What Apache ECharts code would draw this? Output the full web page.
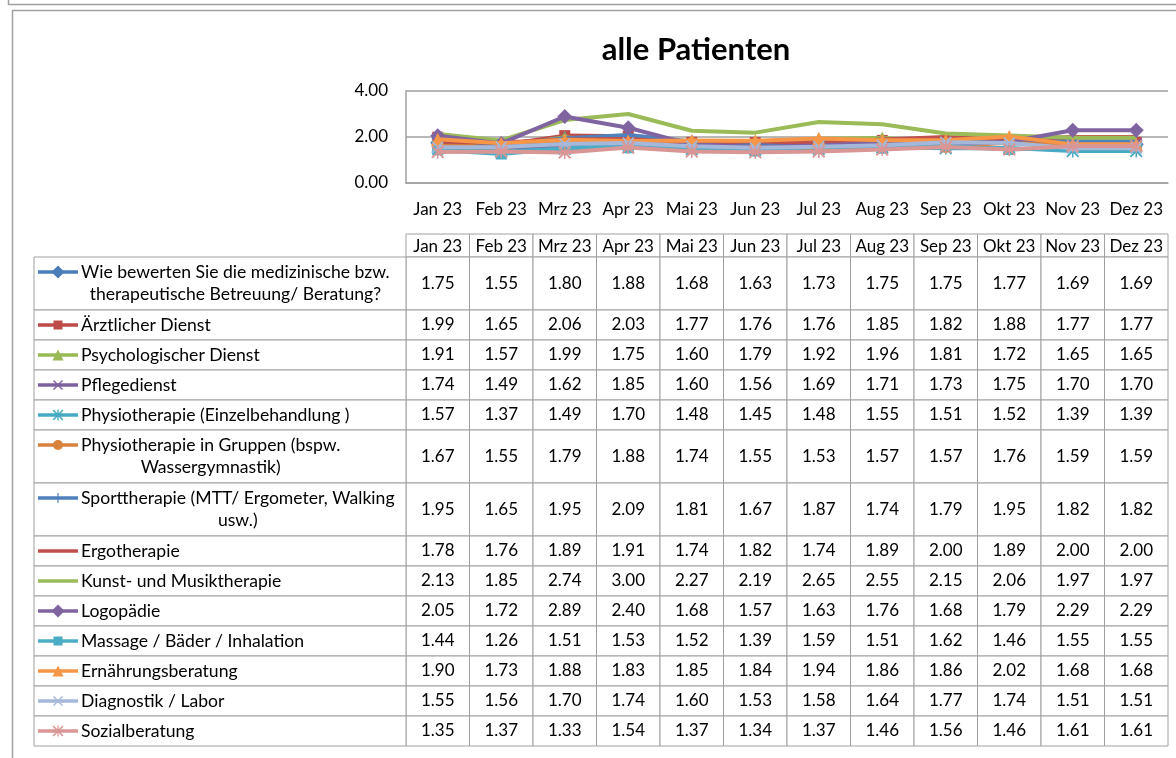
<!DOCTYPE html>
<html>
<head>
<meta charset="utf-8">
<title>alle Patienten</title>
<script src="https://cdn.jsdelivr.net/npm/echarts@6.0.0/dist/echarts.min.js"></script>
<style>
  html, body { margin: 0; padding: 0; background: #fff; }
  #chart { width: 1176px; height: 758px; }
</style>
</head>
<body>
<div id="chart"></div>
<script>
// Monate (Kategorien)
const months = ['Jan 23', 'Feb 23', 'Mrz 23', 'Apr 23', 'Mai 23', 'Jun 23', 'Jul 23', 'Aug 23', 'Sep 23', 'Okt 23', 'Nov 23', 'Dez 23']
const yTicks = [0, 2, 4]

// Werte je Bereich
const betreuung = [1.75, 1.55, 1.80, 1.88, 1.68, 1.63, 1.73, 1.75, 1.75, 1.77, 1.69, 1.69]
const aerztlich = [1.99, 1.65, 2.06, 2.03, 1.77, 1.76, 1.76, 1.85, 1.82, 1.88, 1.77, 1.77]
const psychologisch = [1.91, 1.57, 1.99, 1.75, 1.60, 1.79, 1.92, 1.96, 1.81, 1.72, 1.65, 1.65]
const pflege = [1.74, 1.49, 1.62, 1.85, 1.60, 1.56, 1.69, 1.71, 1.73, 1.75, 1.70, 1.70]
const physioEinzel = [1.57, 1.37, 1.49, 1.70, 1.48, 1.45, 1.48, 1.55, 1.51, 1.52, 1.39, 1.39]
const physioGruppen = [1.67, 1.55, 1.79, 1.88, 1.74, 1.55, 1.53, 1.57, 1.57, 1.76, 1.59, 1.59]
const sport = [1.95, 1.65, 1.95, 2.09, 1.81, 1.67, 1.87, 1.74, 1.79, 1.95, 1.82, 1.82]
const ergo = [1.78, 1.76, 1.89, 1.91, 1.74, 1.82, 1.74, 1.89, 2.00, 1.89, 2.00, 2.00]
const kunst = [2.13, 1.85, 2.74, 3.00, 2.27, 2.19, 2.65, 2.55, 2.15, 2.06, 1.97, 1.97]
const logo = [2.05, 1.72, 2.89, 2.40, 1.68, 1.57, 1.63, 1.76, 1.68, 1.79, 2.29, 2.29]
const massage = [1.44, 1.26, 1.51, 1.53, 1.52, 1.39, 1.59, 1.51, 1.62, 1.46, 1.55, 1.55]
const ernaehrung = [1.90, 1.73, 1.88, 1.83, 1.85, 1.84, 1.94, 1.86, 1.86, 2.02, 1.68, 1.68]
const diagnostik = [1.55, 1.56, 1.70, 1.74, 1.60, 1.53, 1.58, 1.64, 1.77, 1.74, 1.51, 1.51]
const sozial = [1.35, 1.37, 1.33, 1.54, 1.37, 1.34, 1.37, 1.46, 1.56, 1.46, 1.61, 1.61]

const names = [
  'Wie bewerten Sie die medizinische bzw.\ntherapeutische Betreuung/ Beratung?',
  'Ärztlicher Dienst',
  'Psychologischer Dienst',
  'Pflegedienst',
  'Physiotherapie (Einzelbehandlung )',
  'Physiotherapie in Gruppen (bspw.\nWassergymnastik)',
  'Sporttherapie (MTT/ Ergometer, Walking\nusw.)',
  'Ergotherapie',
  'Kunst- und Musiktherapie',
  'Logopädie',
  'Massage / Bäder / Inhalation',
  'Ernährungsberatung',
  'Diagnostik / Labor',
  'Sozialberatung'
]
const values = [betreuung, aerztlich, psychologisch, pflege, physioEinzel, physioGruppen, sport,
  ergo, kunst, logo, massage, ernaehrung, diagnostik, sozial]

// Darstellung
const colors = ['#4A7EBB', '#BE4B48', '#98B954', '#7D60A0', '#46AAC5', '#D8823E', '#4F81BD',
  '#C0504D', '#9BBB59', '#8064A2', '#4BACC6', '#F79646', '#A5B8DA', '#D99694']
const P = {
  diamond: 'M5,0L10,5L5,10L0,5Z',
  rect: 'M0,0H10V10H0Z',
  triangle: 'M5,0L10,10H0Z',
  cross: 'M0,1L1,0L10,9L9,10Z M9,0L10,1L1,10L0,9Z',
  star: 'M0,1L1,0L10,9L9,10Z M9,0L10,1L1,10L0,9Z M4.4,0H5.6V10H4.4Z',
  circle: 'M0,5A5,5 0 1,0 10,5A5,5 0 1,0 0,5Z',
  plus: 'M4.4,0H5.6V10H4.4Z M0,4.4H10V5.6H0Z'
}
const markers = ['diamond', 'rect', 'triangle', 'cross', 'star', 'circle', 'plus',
  null, null, 'diamond', 'rect', 'triangle', 'cross', 'star']
const markerSize = { diamond: 15, rect: 11, triangle: 13, cross: 12, star: 13, circle: 12, plus: 12 }

const FONT = 'Lato, "Noto Sans", sans-serif'
const GRAY = '#A0A0A0'

// Tabellen-Layout
const headH = 23
const rowH = names.map(n => n.indexOf('\n') >= 0 ? 53 : 30)
const rowTop = []
rowH.reduce((acc, h, i) => { rowTop[i] = acc; return acc + h }, headH)
const tableH = headH + rowH.reduce((a, b) => a + b, 0)
const legendW = 372

const measureCtx = document.createElement('canvas').getContext('2d')
function textWidth(s, font) {
  measureCtx.font = font
  return measureCtx.measureText(s).width
}

const chart = echarts.init(document.getElementById('chart'))

const lineSeries = names.map((n, i) => ({
  name: n.replace('\n', ' '),
  type: 'line',
  xAxisIndex: 0,
  yAxisIndex: 0,
  data: values[i],
  symbol: markers[i] ? 'path://' + P[markers[i]] : 'none',
  symbolSize: markers[i] ? markerSize[markers[i]] : 0,
  showSymbol: !!markers[i],
  lineStyle: { width: 4, color: colors[i] },
  itemStyle: { color: colors[i] },
  z: 3 + i
}))

const cellData = []
values.forEach((arr, r) => arr.forEach((v, m) => cellData.push([m, r, v])))

function cellRect(api, m, top, h) {
  const bw = api.size([1, 0])[0]
  const cx = api.coord([m, top])[0]
  const y0 = api.coord([m, top])[1]
  const y1 = api.coord([m, top + h])[1]
  return { x: cx - bw / 2, y: y0, width: bw, height: y1 - y0, cx: cx }
}

const cellSeries = {
  type: 'custom',
  xAxisIndex: 1,
  yAxisIndex: 1,
  data: cellData,
  renderItem(params, api) {
    const m = api.value(0), r = api.value(1), v = api.value(2)
    const c = cellRect(api, m, rowTop[r], rowH[r])
    return {
      type: 'group',
      children: [
        { type: 'rect', shape: { x: c.x, y: c.y, width: c.width, height: c.height },
          style: { fill: '#fff', stroke: GRAY, lineWidth: 1 } },
        { type: 'text', style: { text: v.toFixed(2), x: c.cx, y: c.y + c.height / 2,
          textAlign: 'center', textVerticalAlign: 'middle', font: '17px ' + FONT, fill: '#000' } }
      ]
    }
  }
}

const headerSeries = {
  type: 'custom',
  xAxisIndex: 1,
  yAxisIndex: 1,
  data: months.map((mo, m) => [m, 0]),
  renderItem(params, api) {
    const m = api.value(0)
    const c = cellRect(api, m, 0, headH)
    return {
      type: 'group',
      children: [
        { type: 'rect', shape: { x: c.x, y: c.y, width: c.width, height: c.height },
          style: { fill: '#fff', stroke: GRAY, lineWidth: 1 } },
        { type: 'text', style: { text: months[m], x: c.cx, y: c.y + c.height / 2 + 1,
          textAlign: 'center', textVerticalAlign: 'middle', font: '17px ' + FONT, fill: '#000' } }
      ]
    }
  }
}

const legendSeries = {
  type: 'custom',
  xAxisIndex: 1,
  yAxisIndex: 1,
  data: names.map((n, r) => [0, r]),
  renderItem(params, api) {
    const r = api.value(1)
    const c = cellRect(api, 0, rowTop[r], rowH[r])
    const x0 = c.x - legendW
    const iy = c.y + 15
    const font = '17.6px ' + FONT
    const lines = names[r].split('\n')
    const children = [
      { type: 'rect', shape: { x: x0, y: c.y, width: legendW, height: c.height },
        style: { fill: '#fff', stroke: GRAY, lineWidth: 1 } },
      { type: 'line', shape: { x1: x0 + 4, y1: iy, x2: x0 + 44, y2: iy },
        style: { stroke: colors[r], lineWidth: 3.5 } }
    ]
    const mk = markers[r]
    if (mk) {
      const s = markerSize[mk] - 2
      children.push({ type: 'path', shape: { pathData: P[mk], x: x0 + 24 - s / 2, y: iy - s / 2, width: s, height: s },
        style: { fill: colors[r] } })
    }
    if (lines.length > 1) {
      const w = Math.max.apply(null, lines.map(l => textWidth(l, font)))
      children.push({ type: 'text', style: { text: names[r], x: x0 + 47 + w / 2, y: iy - 11,
        textAlign: 'center', textVerticalAlign: 'top', lineHeight: 22, font: font, fill: '#000' } })
    } else {
      children.push({ type: 'text', style: { text: names[r], x: x0 + 47, y: iy,
        textAlign: 'left', textVerticalAlign: 'middle', font: font, fill: '#000' } })
    }
    return { type: 'group', children: children }
  }
}

chart.setOption({
  animation: false,
  title: {
    text: 'alle Patienten',
    left: 691,
    top: 29,
    textAlign: 'center',
    textStyle: { fontFamily: FONT, fontWeight: 'bold', fontSize: 31, color: '#000' }
  },
  graphic: [
    { type: 'polyline', shape: { points: [[8.5, 0], [8.5, 4.5], [1176, 4.5]] }, style: { stroke: GRAY, lineWidth: 1.5, fill: null } },
    { type: 'polyline', shape: { points: [[12.5, 758], [12.5, 10.5], [1176, 10.5]] }, style: { stroke: GRAY, lineWidth: 1.5, fill: null } }
  ],
  grid: [
    { left: 406, width: 762, top: 91, height: 92 },
    { left: 406, width: 762, top: 234, height: tableH }
  ],
  xAxis: [
    {
      gridIndex: 0,
      type: 'category',
      data: months,
      boundaryGap: true,
      axisLine: { lineStyle: { color: GRAY, width: 1.5 } },
      axisTick: { show: false },
      axisLabel: { interval: 0, color: '#000', fontFamily: FONT, fontSize: 17, margin: 18 }
    },
    { gridIndex: 1, type: 'category', data: months, boundaryGap: true, show: false }
  ],
  yAxis: [
    {
      gridIndex: 0,
      type: 'value',
      min: yTicks[0],
      max: yTicks[yTicks.length - 1],
      interval: yTicks[1] - yTicks[0],
      axisLine: { show: true, lineStyle: { color: GRAY, width: 1.5 } },
      axisTick: { show: false },
      splitLine: { lineStyle: { color: GRAY, width: 1.5 } },
      axisLabel: { color: '#000', fontFamily: FONT, fontSize: 17, margin: 18, formatter: v => v.toFixed(2) }
    },
    { gridIndex: 1, type: 'value', min: 0, max: tableH, inverse: true, show: false }
  ],
  series: lineSeries.concat([headerSeries, cellSeries, legendSeries])
})
</script>
</body>
</html>
